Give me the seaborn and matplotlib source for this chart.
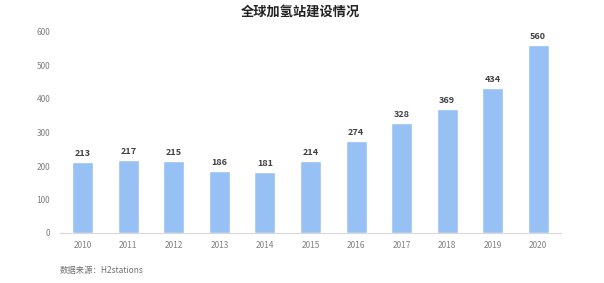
import matplotlib
matplotlib.use("Agg")
import matplotlib.pyplot as plt
import seaborn as sns
import pandas as pd

years = ["2010", "2011", "2012", "2013", "2014", "2015", "2016", "2017", "2018", "2019", "2020"]
stations = [213, 217, 215, 186, 181, 214, 274, 328, 369, 434, 560]
y_ticks = [0, 100, 200, 300, 400, 500, 600]

sns.set_theme(style="white")
plt.rcParams['font.family'] = ['Noto Sans CJK SC', 'DejaVu Sans']

df = pd.DataFrame({"year": years, "value": stations})

fig = plt.figure(figsize=(6.04, 2.83), dpi=100)
ax = fig.add_axes([60/604, 50/283, 501/604, 201/283])
sns.barplot(data=df, x="year", y="value", color="#97C0F5", width=0.46, ax=ax, saturation=1)

for i, v in enumerate(stations):
    ax.text(i, v + 12, str(v), ha="center", va="bottom", fontsize=6.5,
            fontweight="bold", color="#404040")

ax.set_ylim(0, 600)
ax.set_yticks(y_ticks)
ax.set_xlabel("")
ax.set_ylabel("")
ax.tick_params(axis="both", labelsize=6, colors="#808080", length=0)
ax.tick_params(axis="x", pad=6)
ax.tick_params(axis="y", pad=7)
for s in ["top", "right", "left"]:
    ax.spines[s].set_visible(False)
ax.spines["bottom"].set_color("#D9D9D9")
ax.spines["bottom"].set_linewidth(0.8)

fig.text(300/604, 1 - 12/283, "全球加氢站建设情况", ha="center", va="center",
         fontsize=9.5, fontweight="bold", color="#222222")
fig.text(60/604, 1 - 270/283, "数据来源：H2stations", ha="left", va="center",
         fontsize=6, color="#707070")

fig.savefig("out.png", dpi=100)
